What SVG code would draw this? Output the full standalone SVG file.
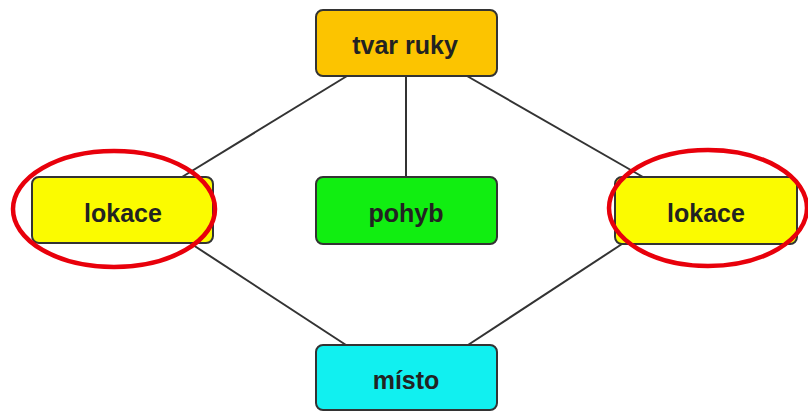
<svg xmlns="http://www.w3.org/2000/svg" width="808" height="412" viewBox="0 0 808 412">
<style>
.box{stroke:#333;stroke-width:2}
.lbl{font-family:"Liberation Sans",Arial,sans-serif;font-weight:bold;font-size:25px;fill:#222;text-anchor:middle;dominant-baseline:central}
.edge{stroke:#333;stroke-width:2;fill:none}
.ring{fill:none;stroke:#e8000b;stroke-width:4.5}
</style>
<rect width="808" height="412" fill="#fff"/>
<g id="connectors">
<line class="edge" x1="347" y1="76" x2="182" y2="177"/>
<line class="edge" x1="406" y1="76" x2="406" y2="177"/>
<line class="edge" x1="467" y1="76" x2="643" y2="177"/>
<line class="edge" x1="190" y1="243" x2="346" y2="345"/>
<line class="edge" x1="622" y1="244" x2="468" y2="345"/>
</g>
<g id="tvar-ruky"><rect class="box" x="316" y="10" width="181" height="66" rx="7" fill="#fcc400"/><text class="lbl" x="405" y="45">tvar ruky</text></g>
<g id="lokace-left"><rect class="box" x="32" y="177" width="181" height="66" rx="7" fill="#fbfb00"/><text class="lbl" x="123" y="213">lokace</text></g>
<g id="pohyb"><rect class="box" x="316" y="177" width="181" height="67" rx="7" fill="#11ee11"/><text class="lbl" x="406" y="213">pohyb</text></g>
<g id="lokace-right"><rect class="box" x="615" y="177" width="182" height="67" rx="7" fill="#fbfb00"/><text class="lbl" x="706" y="213">lokace</text></g>
<g id="misto"><rect class="box" x="316" y="345" width="181" height="65" rx="7" fill="#11f0f0"/><text class="lbl" x="406" y="380">místo</text></g>
<g id="highlights">
<ellipse class="ring" cx="114" cy="209" rx="101" ry="58"/>
<ellipse class="ring" cx="708" cy="208" rx="99" ry="58"/>
</g>
</svg>
